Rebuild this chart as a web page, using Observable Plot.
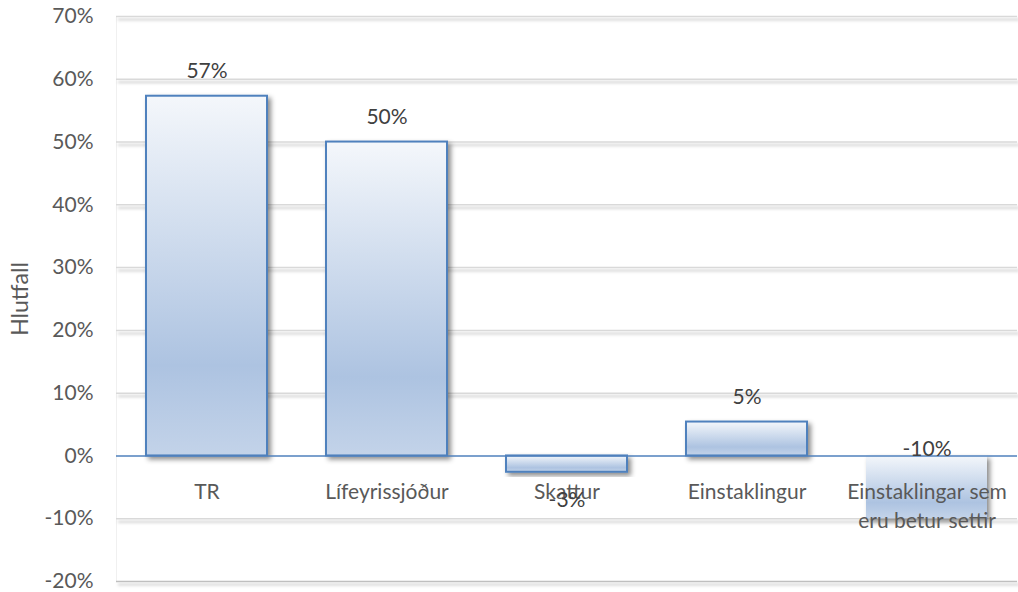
<!DOCTYPE html>
<html>
<head>
<meta charset="utf-8">
<script src="https://cdn.jsdelivr.net/npm/d3@7"></script>
<script src="https://cdn.jsdelivr.net/npm/@observablehq/plot@0.6"></script>
<style>
  html, body { margin: 0; padding: 0; background: #ffffff; }
  #chart svg { display: block; }
</style>
</head>
<body>
<div id="chart"></div>
<script>
const categories = ["TR", "Lífeyrissjóður", "Skattur", "Einstaklingur", "Einstaklingar sem eru betur settir"];
const categoryLabels = ["TR", "Lífeyrissjóður", "Skattur", "Einstaklingur", "Einstaklingar sem\neru betur settir"];
const values = [57.3, 50.0, -2.6, 5.4, -10.0];
const yTicks = [-20, -10, 0, 10, 20, 30, 40, 50, 60, 70];
const yLabel = "Hlutfall";

const data = categories.map((c, i) => ({cat: c, label: categoryLabels[i], value: values[i]}));
const lastCat = categories[categories.length - 1];
const fmt = d => Math.round(d.value) + "%";

const FONT = "Lato, 'Open Sans', sans-serif";
const FS = 21;

const svg = Plot.plot({
  width: 1018,
  height: 592,
  marginLeft: 116,
  marginRight: 1,
  marginTop: 16,
  marginBottom: 11,
  style: {fontFamily: FONT, fontSize: FS + "px", color: "#595959", background: "#ffffff"},
  x: {domain: categories, paddingInner: 0.33, paddingOuter: 0.165, axis: null},
  y: {domain: [-20, 70], ticks: yTicks},
  marks: [
    Plot.frame({anchor: "left", stroke: "#f0f0f0"}),
    Plot.ruleY(yTicks.filter(t => t !== 0 && t !== -20), {stroke: "#d9d9d9", strokeWidth: 1.5}),
    Plot.ruleY([-20], {stroke: "#bfbfbf", strokeWidth: 1.5}),
    Plot.axisY({
      ticks: yTicks,
      tickSize: 0,
      tickPadding: 23,
      tickFormat: d => d + "%",
      fontSize: FS,
      fill: "#595959",
      label: null
    }),
    Plot.text([yLabel], {
      frameAnchor: "left",
      textAnchor: "middle",
      text: d => d,
      rotate: -90,
      dx: -96,
      fontSize: 23,
      fill: "#595959"
    }),
    Plot.barY(data, {
      x: "cat",
      y: "value",
      fill: "url(#barGrad)",
      stroke: d => d.cat === lastCat ? "none" : "#4f81bd",
      strokeWidth: 2
    }),
    Plot.ruleY([0], {stroke: "#4f81bd", strokeWidth: 1.5}),
    Plot.text(data, {
      x: "cat",
      y: 0,
      text: "label",
      lineAnchor: "top",
      dy: 23,
      lineHeight: 1.36,
      fontSize: FS,
      fill: "#595959"
    }),
    Plot.text(data.filter(d => d.value >= 0), {
      x: "cat", y: "value", text: fmt,
      dy: -25, fontSize: FS, fill: "#404040"
    }),
    Plot.text(data.filter(d => d.value < 0 && d.value >= -5), {
      x: "cat", y: "value", text: fmt,
      dy: 28, fontSize: FS, fill: "#404040"
    }),
    Plot.text(data.filter(d => d.value < -5), {
      x: "cat", y: 0, text: fmt,
      dy: -7, fontSize: FS, fill: "#404040"
    })
  ]
});

// gradient + shadow definitions
const s = d3.select(svg);
const defs = s.insert("defs", ":first-child");
const g = defs.append("linearGradient").attr("id", "barGrad")
  .attr("x1", 0).attr("y1", 0).attr("x2", 0).attr("y2", 1);
g.append("stop").attr("offset", "0").attr("stop-color", "#f4f7fb");
g.append("stop").attr("offset", "0.75").attr("stop-color", "#adc3e1");
g.append("stop").attr("offset", "1").attr("stop-color", "#c3d3e9");

const f = defs.append("filter").attr("id", "shadow")
  .attr("x", "-20%").attr("y", "-20%").attr("width", "150%").attr("height", "150%");
f.append("feDropShadow").attr("dx", 3).attr("dy", 3).attr("stdDeviation", 2.5)
  .attr("flood-color", "#000").attr("flood-opacity", 0.45);

const fg = defs.append("filter").attr("id", "gridShadow")
  .attr("filterUnits", "userSpaceOnUse")
  .attr("x", 0).attr("y", 0).attr("width", 1018).attr("height", 592);
fg.append("feDropShadow").attr("dx", 2).attr("dy", 3).attr("stdDeviation", 1.5)
  .attr("flood-color", "#000").attr("flood-opacity", 0.25);

s.selectAll("g[aria-label='bar'] rect").attr("filter", "url(#shadow)");
s.selectAll("g[aria-label='rule']").filter((d, i) => i < 2).attr("filter", "url(#gridShadow)");

document.getElementById("chart").appendChild(svg);
</script>
</body>
</html>
